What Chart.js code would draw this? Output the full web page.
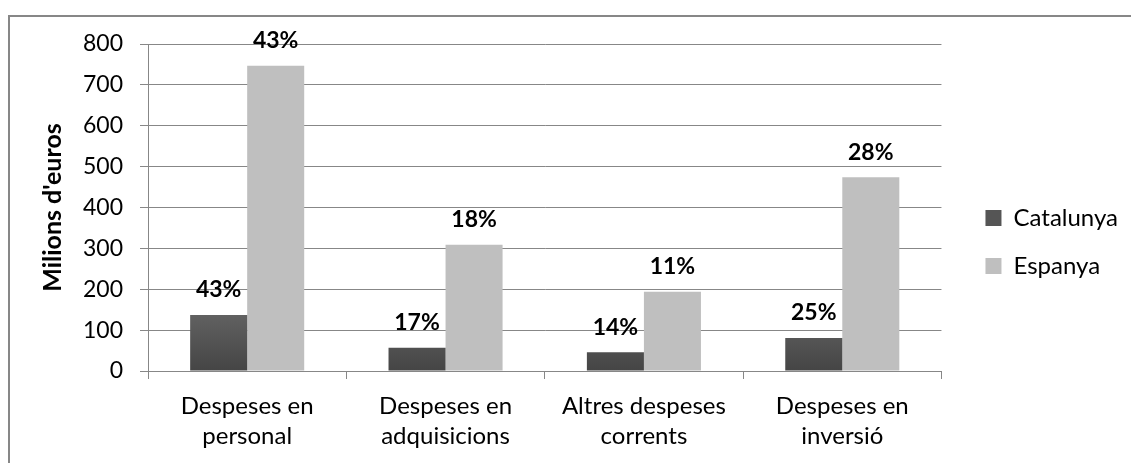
<!DOCTYPE html>
<html>
<head>
<meta charset="utf-8">
<script src="https://cdn.jsdelivr.net/npm/chart.js@4"></script>
<style>
  body { margin: 0; background: #fff; }
  #frame {
    position: absolute; left: 8px; top: 15px; width: 1123px; height: 448px;
    border-top: 2px solid #878787; border-left: 2px solid #878787;
  }
  #wrap { position: absolute; left: 0; top: 0; width: 1121px; height: 446px; }
</style>
</head>
<body>
<div id="frame"><div id="wrap"><canvas id="canvas"></canvas></div></div>
<script>
// data
var categories = [['Despeses en', 'personal'], ['Despeses en', 'adquisicions'], ['Altres despeses', 'corrents'], ['Despeses en', 'inversió']];
var catalunya = [137, 57, 46, 81];
var espanya = [747, 309, 194, 474];
var catalunyaPct = ['43%', '17%', '14%', '25%'];
var espanyaPct = ['43%', '18%', '11%', '28%'];

var FONT = 'Lato';

// percent labels over the bars
var pctLabels = {
    id: 'pctLabels',
    afterDatasetsDraw: function(chart){
        var c = chart.ctx;
        var texts = [catalunyaPct, espanyaPct];
        c.save();
        c.font = 'bold 23px ' + FONT;
        c.fillStyle = '#000';
        c.textAlign = 'center';
        c.textBaseline = 'middle';
        chart.data.datasets.forEach(function(ds, i){
            chart.getDatasetMeta(i).data.forEach(function(bar, j){
                c.fillText(texts[i][j], bar.x, bar.y - 25);
            })
        })
        c.restore();
    }
};

function darkFill(context){
    var chart = context.chart;
    if (!chart.chartArea) return '#555555';
    var y = chart.scales.y;
    var g = chart.ctx.createLinearGradient(0, y.getPixelForValue(0), 0, y.getPixelForValue(140));
    g.addColorStop(0, '#454545');
    g.addColorStop(1, '#616161');
    return g;
}

const ctx = document.getElementById('canvas').getContext('2d');
const myChart = new Chart(ctx, {
    type: 'bar',
    data: {
        labels: categories,
        datasets: [{
            label: 'Catalunya',
            data: catalunya,
            backgroundColor: darkFill,
            categoryPercentage: 0.575,
            barPercentage: 1
        }, {
            label: 'Espanya',
            data: espanya,
            backgroundColor: '#bfbfbf',
            categoryPercentage: 0.575,
            barPercentage: 1
        }]
    },
    plugins: [pctLabels],
    options: {
        responsive: true,
        maintainAspectRatio: false,
        animation: false,
        layout: {
            padding: { left: 28, top: 4, bottom: 0, right: 3 }
        },
        plugins: {
            legend: {
                position: 'right',
                labels: {
                    font: { family: FONT, size: 24 },
                    color: '#000',
                    boxWidth: 16,
                    boxHeight: 16,
                    padding: 24,
                    generateLabels: function(chart){
                        return chart.data.datasets.map(function(ds, i){
                            return {
                                text: ds.label,
                                fillStyle: i == 0 ? '#555555' : '#bfbfbf',
                                strokeStyle: 'rgba(0,0,0,0)',
                                lineWidth: 0,
                                datasetIndex: i
                            }
                        })
                    }
                }
            },
            tooltip: { enabled: false }
        },
        scales: {
            y: {
                min: 0,
                max: 800,
                ticks: {
                    stepSize: 100,
                    padding: 17,
                    color: '#000',
                    font: { family: FONT, size: 23 }
                },
                grid: {
                    color: '#878787',
                    tickLength: 8
                },
                border: { color: '#878787' },
                title: {
                    display: true,
                    text: "Milions d'euros",
                    color: '#000',
                    font: { family: FONT, size: 25, weight: 'bold' },
                    padding: { top: 0, bottom: 0 }
                },
                afterFit: function(scale){
                    scale.width = 110;
                    scale.paddingTop = 27;
                    scale.paddingBottom = 0;
                }
            },
            // empty spacer between the plot and the legend
            gap: {
                type: 'linear',
                position: 'right',
                ticks: { display: false },
                grid: { display: false },
                border: { display: false },
                afterFit: function(scale){
                    scale.width = 20;
                    scale.paddingTop = 0;
                    scale.paddingBottom = 0;
                }
            },
            x: {
                ticks: {
                    color: '#000',
                    padding: 12,
                    font: { family: FONT, size: 24, lineHeight: 1.25 }
                },
                grid: {
                    drawOnChartArea: false,
                    color: '#878787',
                    tickLength: 8
                },
                border: { color: '#878787' }
            }
        }
    }
});
</script>
</body>
</html>
